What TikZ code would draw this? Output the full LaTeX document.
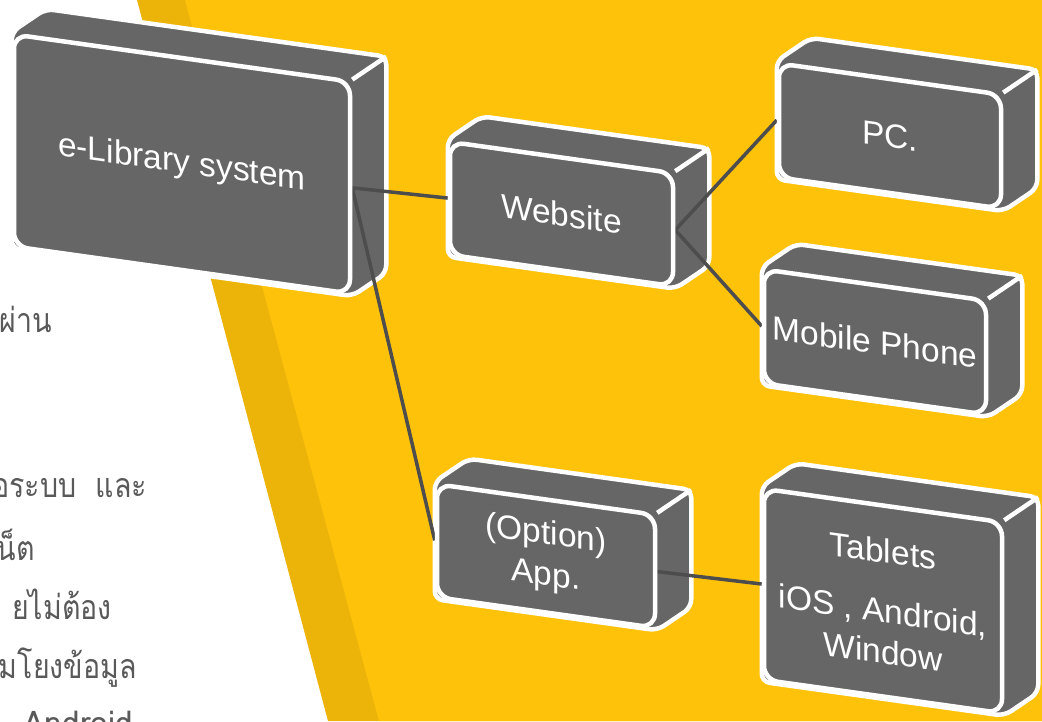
\documentclass[tikz,border=0pt]{standalone}
\usepackage{fontspec}
\setmainfont{Liberation Sans}
\newfontfamily\thaifont[Script=Thai]{Loma}
\usetikzlibrary{calc}

\pgfdeclarelayer{backdrop}
\pgfdeclarelayer{sides}
\pgfdeclarelayer{links}
\pgfsetlayers{backdrop,sides,links,main}

\definecolor{gold}{HTML}{FEC20B}
\definecolor{darkgold}{HTML}{ECB309}
\definecolor{facegray}{HTML}{666666}
\definecolor{linkgray}{HTML}{4D4D4D}
\definecolor{textgray}{HTML}{595959}

\begin{document}
\begin{tikzpicture}[x=1pt,y=1pt]
	\tikzstyle{face}=[draw=white, line width=4.5pt, fill=facegray, rounded corners=14pt, yslant=-0.14, inner sep=0pt, align=center, text=white, font={\fontsize{33.5}{41}\selectfont}]
	\tikzstyle{side}=[draw=white, line width=4.5pt, fill=facegray, rounded corners=8pt, line join=round]
	\tikzstyle{link}=[draw=linkgray, line width=3.5pt]
	\tikzstyle{note}=[anchor=base east, inner sep=0pt, text=textgray, font={\thaifont\fontsize{34}{40}\selectfont}]
	\tikzstyle{thai}=[note, xscale=0.84]

	\useasboundingbox (0,0) rectangle (1042,-721);
	\begin{pgfonlayer}{backdrop}
		\fill[white] (0,0) rectangle (1042,-721);
		\fill[darkgold] (137,0) -- (1042,0) -- (1042,-721) -- (328,-721) -- cycle;
		\fill[gold] (185,0) -- (1042,0) -- (1042,-721) -- (379,-721) -- cycle;
	\end{pgfonlayer}

	% text on the left, cut by the page edge
	\node[thai] (t1) at (52,-332) {ผ่าน};
	\node[thai] (t2) at (147,-497) {อระบบ\ \ และ};
	\node[thai] (t3) at (35,-560) {น็ต};
	\node[thai] (t4) at (112,-619) {ยไม่ต้อง};
	\node[thai] (t5) at (137,-678) {มโยงข้อมูล};
	\node[note, xscale=0.93] (t6) at (133,-735) {Android};

	% front faces
	\node[face, minimum width=336pt, minimum height=212pt] (lib) at (182,-164) {e-Library system};
	\node[face, minimum width=223pt, minimum height=113pt] (web) at (561.5,-214) {Website};
	\node[face, minimum width=222pt, minimum height=114pt] (pc) at (890,-136) {PC.};
	\node[face, minimum width=222pt, minimum height=114pt] (mob) at (875,-342) {Mobile Phone};
	\node[face, minimum width=218pt, minimum height=113pt] (app) at (546,-556) {(Option)\\App.};
	\node[face, minimum width=238pt, minimum height=191pt] (tab) at (883,-601) {Tablets\\[19pt]iOS , Android,\\Window};

	% top and right faces
	\begin{pgfonlayer}{sides}
		\foreach \n in {lib,web,pc,mob,app,tab}{
			\draw[side] (\n.north west) -- ++(34,23) -- ($(\n.north east)+(34,23)$) -- ($(\n.south east)+(34,23)$) -- (\n.south east) -- (\n.south west) -- cycle;
			\draw[white, line width=4.5pt] (\n.north east) -- ++(34,23);
		}
	\end{pgfonlayer}

	\begin{pgfonlayer}{links}
		\draw[link] (lib.east) -- (web.west);
		\draw[link] (lib.east) -- (app.west);
		\draw[link] (web.east) -- (pc.west);
		\draw[link] (web.east) -- (mob.west);
		\draw[link] (app.east) -- (tab.west);
	\end{pgfonlayer}
\end{tikzpicture}
\end{document}
